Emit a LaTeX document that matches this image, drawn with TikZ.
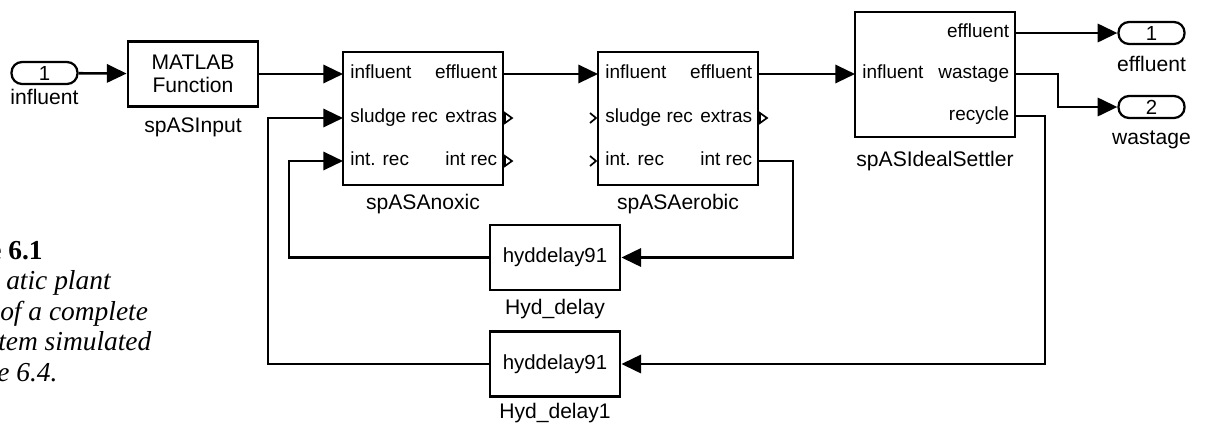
\documentclass[tikz,border=0pt]{standalone}
\usepackage{fontspec}
\setmainfont{Liberation Sans}
\newfontfamily\capfont{Liberation Serif}
\usetikzlibrary{arrows.meta,positioning,calc}

\begin{document}
\begin{tikzpicture}
  [x=0.025cm,y=-0.025cm,
   every node/.style={inner sep=0pt,font=\fontsize{14.5}{17}\selectfont},
   blk/.style={draw,line width=2pt},
   capsule/.style={draw,line width=1.6pt,rounded corners=7.5pt,minimum width=1.65cm,minimum height=0.55cm},
   blkname/.style={font=\fontsize{15}{17}\selectfont},
   lbl/.style={font=\fontsize{13.5}{16}\selectfont,text height=9.7pt,text depth=2.9pt},
   captxt/.style={anchor=base west,font=\capfont\fontsize{19.5}{22}\selectfont\itshape},
   wire/.style={->,line width=1.8pt,>={Triangle[length=14pt,width=13pt]}},
   stub/.style={line width=1.2pt}]
  \useasboundingbox (0,0) rectangle (1205,423);

  % caption, cut at the left edge
  \node[captxt] (cap1) at (-11,259) {\upshape\bfseries e 6.1};
  \node[captxt] (cap2) at (6,289.5) {atic plant};
  \node[captxt] (cap3) at (0,320) {of a complete};
  \node[captxt] (cap4) at (-2,350.5) {tem simulated};
  \node[captxt] (cap5) at (-3,381) {e 6.4.};

  % inport and input function
  \node[capsule] (inp) at (44.5,73) {1};
  \node[blkname,below=3pt of inp] (inpLbl) {influent};
  \node[blk,minimum width=3.25cm,minimum height=1.625cm,align=center,font=\fontsize{15}{16.5}\selectfont] (matlab) at (193,74) {MATLAB\\Function};
  \node[blkname,below=7pt of matlab] (matlabLbl) {spASInput};

  % reactors and settler
  \node[blk,minimum width=4cm,minimum height=3.325cm] (anox) at (423,118.5) {};
  \node[blkname,below=5pt of anox] (anoxLbl) {spASAnoxic};
  \node[blk,minimum width=4cm,minimum height=3.325cm] (aer) at (678,118.5) {};
  \node[blkname,below=5pt of aer] (aerLbl) {spASAerobic};
  \node[blk,minimum width=4cm,minimum height=3.125cm] (settler) at (935,74.5) {};
  \node[blkname,below=9pt of settler] (settlerLbl) {spASIdealSettler};

  % delays
  \node[blk,minimum width=3.25cm,minimum height=1.625cm] (hd) at (555,257.5) {hyddelay91};
  \node[blkname,below=5pt of hd] (hdLbl) {Hyd\_delay};
  \node[blk,minimum width=3.25cm,minimum height=1.625cm] (hd1) at (555,364) {hyddelay91};
  \node[blkname,below=3.5pt of hd1] (hd1Lbl) {Hyd\_delay1};

  % outports
  \node[capsule] (out1) at (1151.5,33) {1};
  \node[blkname,below=8pt of out1] (out1Lbl) {effluent};
  \node[capsule] (out2) at (1151.5,107) {2};
  \node[blkname,below=8pt of out2] (out2Lbl) {wastage};

  % ports
  \coordinate (anoxInf) at (343,74);
  \coordinate (anoxSl) at (343,118);
  \coordinate (anoxIr) at (343,161);
  \coordinate (anoxEff) at (503,74);
  \coordinate (anoxExt) at (503,118);
  \coordinate (anoxIro) at (503,161);
  \coordinate (aerInf) at (598,74);
  \coordinate (aerSl) at (598,118);
  \coordinate (aerIr) at (598,161);
  \coordinate (aerEff) at (758,74);
  \coordinate (aerExt) at (758,118);
  \coordinate (aerIro) at (758,161);
  \coordinate (setInf) at (855,74);
  \coordinate (setEff) at (1015,33);
  \coordinate (setWas) at (1015,74);
  \coordinate (setRec) at (1015,116);

  \foreach \c/\t in {anoxInf/influent,anoxSl/sludge rec,anoxIr/int. rec,aerInf/influent,aerSl/sludge rec,aerIr/int. rec,setInf/influent}
    \node[lbl,anchor=west,xshift=5pt] (\c-t) at (\c) {\t};
  \foreach \c/\t in {anoxEff/effluent,anoxExt/extras,anoxIro/int rec,aerEff/effluent,aerExt/extras,aerIro/int rec,setEff/effluent,setWas/wastage,setRec/recycle}
    \node[lbl,anchor=east,xshift=-4pt] (\c-t) at (\c) {\t};

  % unconnected ports
  \foreach \p in {anoxExt,anoxIro,aerExt}
    \draw[stub] ($(\p)+(2,-5)$) -- ($(\p)+(9,0)$) -- ($(\p)+(2,5)$) -- cycle;
  \foreach \p in {aerSl,aerIr}
    \draw[stub] ($(\p)+(-8,-5)$) -- ($(\p)+(-2,0)$) -- ($(\p)+(-8,5)$);

  % signal lines
  \foreach \from/\to in {inp/matlab,matlab/anoxInf,anoxEff/aerInf,aerEff/setInf,setEff/out1}
    \draw[wire] (\from) -- (\to);
  \draw[wire] (setWas) -- ++(43,0) |- (out2);
  \draw[wire] (setRec) -- ++(30,0) |- (hd1);
  \draw[wire] (hd1) -| ($(anoxSl)+(-75,0)$) -- (anoxSl);
  \draw[wire] (aerIro) -- ++(35,0) |- (hd);
  \draw[wire] (hd) -| ($(anoxIr)+(-54,0)$) -- (anoxIr);
\end{tikzpicture}
\end{document}
